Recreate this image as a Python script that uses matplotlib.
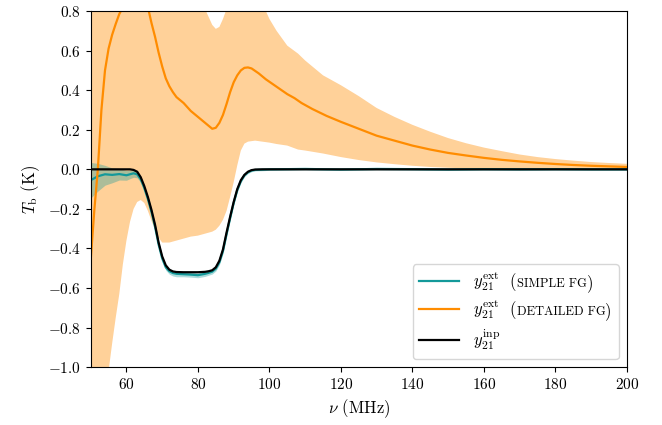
import numpy as np
import matplotlib
matplotlib.use("Agg")
import matplotlib.pyplot as plt
from matplotlib.offsetbox import TextArea, HPacker

plt.rcParams['font.family'] = 'serif'
plt.rcParams['font.serif'] = ['cmr10']
plt.rcParams['mathtext.fontset'] = 'cm'
plt.rcParams['axes.formatter.use_mathtext'] = True
plt.rcParams['axes.unicode_minus'] = True

# ---- data ----
bx = [50, 52, 54, 56, 58, 60, 61, 62, 63, 64, 65, 66, 67, 68, 69, 70, 71, 72, 73, 74,
      76, 78, 80, 82, 83, 84, 85, 86, 87, 88, 89, 90, 91, 92, 93, 94, 95, 96, 98, 100,
      110, 120, 130, 140, 150, 160, 170, 180, 190, 200]
y_inp = [0, 0, 0, 0, 0, 0, 0, -0.003, -0.012, -0.04,
         -0.085, -0.14, -0.205, -0.28, -0.37, -0.44, -0.485, -0.507, -0.516, -0.519,
         -0.52, -0.52, -0.52, -0.518, -0.515, -0.51, -0.495, -0.462, -0.405, -0.32,
         -0.24, -0.165, -0.1, -0.055, -0.028, -0.012, -0.004, -0.001, 0, 0,
         0, 0, 0, 0, 0, 0, 0, 0, 0, 0]
y_simple = [-0.055, -0.035, -0.025, -0.028, -0.024, -0.03, -0.025, -0.02, -0.025, -0.05,
            -0.095, -0.15, -0.215, -0.29, -0.38, -0.45, -0.495, -0.515, -0.524, -0.528,
            -0.53, -0.532, -0.535, -0.528, -0.523, -0.517, -0.502, -0.47, -0.413, -0.328,
            -0.247, -0.17, -0.105, -0.06, -0.03, -0.015, -0.006, -0.003, -0.002, 0.0,
            0.002, -0.001, 0.002, 0.001, -0.001, 0.001, 0.0, 0.001, 0.0, 0.0]
simple_err_lo = [0.09, 0.075, 0.055, 0.04, 0.03, 0.025, 0.022, 0.02, 0.018, 0.016,
                 0.015, 0.015, 0.015, 0.015, 0.015, 0.015, 0.015, 0.015, 0.015, 0.015,
                 0.013, 0.013, 0.013, 0.013, 0.012, 0.012, 0.012, 0.012, 0.012, 0.012,
                 0.01, 0.01, 0.01, 0.008, 0.008, 0.006, 0.006, 0.005, 0.005, 0.005,
                 0.004, 0.004, 0.004, 0.004, 0.004, 0.004, 0.004, 0.004, 0.004, 0.004]
simple_err_hi = [0.09, 0.065, 0.045, 0.035, 0.028, 0.024, 0.02, 0.018, 0.016, 0.015,
                 0.012, 0.012, 0.012, 0.012, 0.012, 0.012, 0.012, 0.012, 0.012, 0.012,
                 0.012, 0.012, 0.012, 0.012, 0.012, 0.012, 0.012, 0.012, 0.012, 0.012,
                 0.01, 0.01, 0.01, 0.008, 0.008, 0.006, 0.006, 0.005, 0.005, 0.005,
                 0.004, 0.004, 0.004, 0.004, 0.004, 0.004, 0.004, 0.004, 0.004, 0.004]

ox = [50, 51, 52, 53, 54, 55, 56, 57, 58, 59, 60, 62, 64, 65, 66, 67, 68, 69, 70, 71,
      72, 73, 74, 75, 76, 78, 80, 82, 84, 85, 86, 87, 88, 89, 90, 91, 92, 93, 94, 95,
      97, 99, 101, 103, 105, 107, 109, 112, 116, 120, 125, 130, 135, 140, 145, 150,
      155, 160, 165, 170, 175, 180, 185, 190, 195, 200]
y_detailed = [-0.46, -0.21, 0.0, 0.3, 0.5, 0.61, 0.68, 0.735, 0.785, 0.82, 0.86, 0.91,
              0.91, 0.88, 0.82, 0.74, 0.67, 0.59, 0.52, 0.46, 0.42, 0.39, 0.365, 0.35,
              0.335, 0.295, 0.265, 0.235, 0.205, 0.21, 0.235, 0.275, 0.33, 0.39, 0.44,
              0.475, 0.5, 0.513, 0.515, 0.51, 0.485, 0.455, 0.43, 0.405, 0.38, 0.36,
              0.335, 0.305, 0.27, 0.24, 0.205, 0.17, 0.145, 0.12, 0.1, 0.083, 0.07,
              0.058, 0.048, 0.04, 0.033, 0.027, 0.022, 0.018, 0.015, 0.012]

fx = [50, 52, 54, 55, 56, 57, 58, 59, 60, 61, 62, 63, 64, 65, 66, 67, 68, 69, 70, 72,
      74, 76, 78, 80, 82, 83, 84, 85, 86, 87, 88, 89, 90, 91, 92, 93, 94, 96, 98, 100,
      102, 105, 108, 110, 115, 120, 125, 130, 135, 140, 145, 150, 155, 160, 165, 170,
      175, 180, 185, 190, 195, 200]
detailed_lo = [-1.6, -1.35, -1.15, -1.02, -0.88, -0.75, -0.63, -0.48, -0.36, -0.265,
               -0.2, -0.165, -0.155, -0.17, -0.21, -0.26, -0.305, -0.345, -0.37, -0.37,
               -0.36, -0.35, -0.34, -0.335, -0.325, -0.32, -0.315, -0.305, -0.285, -0.255,
               -0.21, -0.14, -0.065, 0.02, 0.095, 0.13, 0.14, 0.145, 0.14, 0.135,
               0.128, 0.12, 0.1, 0.095, 0.08, 0.062, 0.047, 0.035, 0.026, 0.018,
               0.012, 0.008, 0.005, 0.004, 0.003, 0.002, 0.001, 0.001, 0.0, 0.0, 0.0, 0.0]
detailed_hi = [1.2, 1.3, 1.4, 1.45, 1.5, 1.5, 1.5, 1.5, 1.5, 1.5,
               1.5, 1.5, 1.45, 1.4, 1.35, 1.3, 1.25, 1.2, 1.15, 1.08,
               1.0, 0.95, 0.9, 0.86, 0.81, 0.77, 0.73, 0.71, 0.72, 0.76,
               0.81, 0.86, 0.9, 0.93, 0.95, 0.95, 0.94, 0.9, 0.84, 0.76,
               0.7, 0.625, 0.585, 0.55, 0.475, 0.425, 0.37, 0.31, 0.265, 0.225,
               0.19, 0.158, 0.132, 0.11, 0.092, 0.075, 0.062, 0.052, 0.044, 0.037, 0.032, 0.028]

xticks = [60, 80, 100, 120, 140, 160, 180, 200]
yticks = [-1.0, -0.8, -0.6, -0.4, -0.2, 0.0, 0.2, 0.4, 0.6, 0.8]
label_suffix = ['SIMPLE FG', 'DETAILED FG', None]

teal = '#13999a'
orange = '#ff8c00'

fig = plt.figure(figsize=(6.62, 4.25), dpi=100)
ax = fig.add_axes([0.137, 0.136, 0.81, 0.838])

ax.fill_between(fx, detailed_lo, detailed_hi, color=orange, alpha=0.4, lw=0)
s_lo = np.array(y_simple) - np.array(simple_err_lo)
s_hi = np.array(y_simple) + np.array(simple_err_hi)
ax.fill_between(bx, s_lo, s_hi, color=teal, alpha=0.35, lw=0)

ax.plot(bx, y_simple, color=teal, lw=1.6, label=r'$y_{21}^{\rm ext}$')
ax.plot(ox, y_detailed, color=orange, lw=1.6, label=r'$y_{21}^{\rm ext}$')
ax.plot(bx, y_inp, color='black', lw=1.6, label=r'$y_{21}^{\rm inp}$')

ax.set_xlim(50, 200)
ax.set_ylim(-1.0, 0.8)
ax.set_xticks(xticks)
ax.set_yticks(yticks)
ax.tick_params(labelsize=11)
ax.set_xlabel(r'$\nu$ (MHz)', fontsize=12)
ax.set_ylabel(r'$T_{\rm b}$ (K)', fontsize=12)
leg = ax.legend(loc='lower right', fontsize=12, framealpha=0.8,
                handlelength=2.4, labelspacing=0.35)

# fake small caps for the legend suffixes
items = []
for col in leg._legend_handle_box.get_children():
    items.extend(col.get_children())
for item, suf in zip(items, label_suffix):
    if suf is None:
        continue
    textbox = item._children[1]
    box = HPacker(children=[textbox,
                            TextArea('  (', textprops=dict(fontsize=12)),
                            TextArea(suf, textprops=dict(fontsize=9)),
                            TextArea(')', textprops=dict(fontsize=12))],
                  sep=0, pad=0, align='baseline')
    box.set_figure(fig)
    item._children[1] = box

fig.savefig('out.png', dpi=100)
